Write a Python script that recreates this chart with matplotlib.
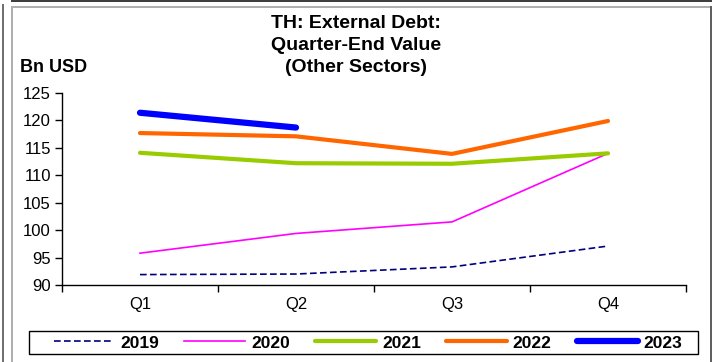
import matplotlib.pyplot as plt
from matplotlib.lines import Line2D
from matplotlib.patches import Rectangle

plt.rcParams.update({
    "font.family": ["Liberation Sans", "DejaVu Sans"],
    "font.size": 12,
    "figure.facecolor": "white",
    "axes.facecolor": "white",
})

quarters = ["Q1", "Q2", "Q3", "Q4"]
years = ["2019", "2020", "2021", "2022", "2023"]
debt_2019 = [91.9, 92.0, 93.3, 97.1]
debt_2020 = [95.8, 99.4, 101.5, 114.0]
debt_2021 = [114.1, 112.2, 112.1, 114.0]
debt_2022 = [117.7, 117.1, 113.9, 119.9]
debt_2023 = [121.4, 118.7]
yticks = [90, 95, 100, 105, 110, 115, 120, 125]
title_lines = ["TH: External Debt:", "Quarter-End Value", "(Other Sectors)"]

W, H = 712, 362
fig = plt.figure(figsize=(W / 100, H / 100), dpi=100)


def fx(x):
    return x / W


def fy(y):
    return 1 - y / H


ax = fig.add_axes([fx(62), fy(285), (686 - 62) / W, (285 - 93) / H])

xs = range(len(quarters))
ax.plot(xs, debt_2019, color="#000080", lw=1.2, ls=(0, (4, 2)), label=years[0])
ax.plot(xs, debt_2020, color="#FF00FF", lw=1.2, label=years[1])
ax.plot(xs, debt_2021, color="#99CC00", lw=3.0, label=years[2], solid_capstyle="round")
ax.plot(xs, debt_2022, color="#FF6600", lw=3.0, label=years[3], solid_capstyle="round")
ax.plot(range(len(debt_2023)), debt_2023, color="#0000FF", lw=4.5,
        label=years[4], solid_capstyle="round")

ax.set_xlim(-0.5, len(quarters) - 0.5)
ax.set_ylim(90, 125)
ax.set_yticks(yticks)
ax.tick_params(axis="y", direction="out", length=5, width=1, pad=3, labelsize=12)
ax.set_xticks([i - 0.5 for i in range(len(quarters) + 1)])
ax.set_xticklabels([])
ax.set_xticks(list(xs), minor=True)
ax.set_xticklabels(quarters, minor=True)
ax.tick_params(axis="x", which="major", direction="out", length=5, width=1)
ax.tick_params(axis="x", which="minor", length=0, pad=9, labelsize=12)
for s in ["top", "right"]:
    ax.spines[s].set_visible(False)
for s in ["left", "bottom"]:
    ax.spines[s].set_color("black")
    ax.spines[s].set_linewidth(1)

for txt, y in zip(title_lines, [23, 46, 68]):
    fig.text(fx(356), fy(y), txt, ha="center", va="center",
             fontsize=14, fontweight="bold")
fig.text(fx(20), fy(68), "Bn USD", ha="left", va="center", fontsize=13, fontweight="bold")

leg = fig.legend(loc="center", bbox_to_anchor=(fx(368), fy(343)), ncol=5,
                 frameon=False, handlelength=3.5, handletextpad=0.35,
                 columnspacing=1.45, borderpad=0.2,
                 prop={"weight": "bold", "size": 12.5})
fig.add_artist(Rectangle((fx(29), fy(354)), fx(698) - fx(29), fy(331) - fy(354),
                         transform=fig.transFigure, fill=False,
                         edgecolor="black", lw=1))

# outer frame lines
frame = [
    ((12, 712), (1, 1), "#404040", 2),
    ((3, 3), (5, 362), "#707070", 2),
    ((12, 12), (7, 362), "#b0b0b0", 2),
    ((12, 710), (7, 7), "#b0b0b0", 2),
    ((711, 711), (7, 362), "#606060", 2),
]
for (x0, x1), (y0, y1), c, lw in frame:
    fig.add_artist(Line2D([fx(x0), fx(x1)], [fy(y0), fy(y1)],
                          transform=fig.transFigure, color=c, lw=lw * 0.72))

fig.savefig("out.png", dpi=100)
